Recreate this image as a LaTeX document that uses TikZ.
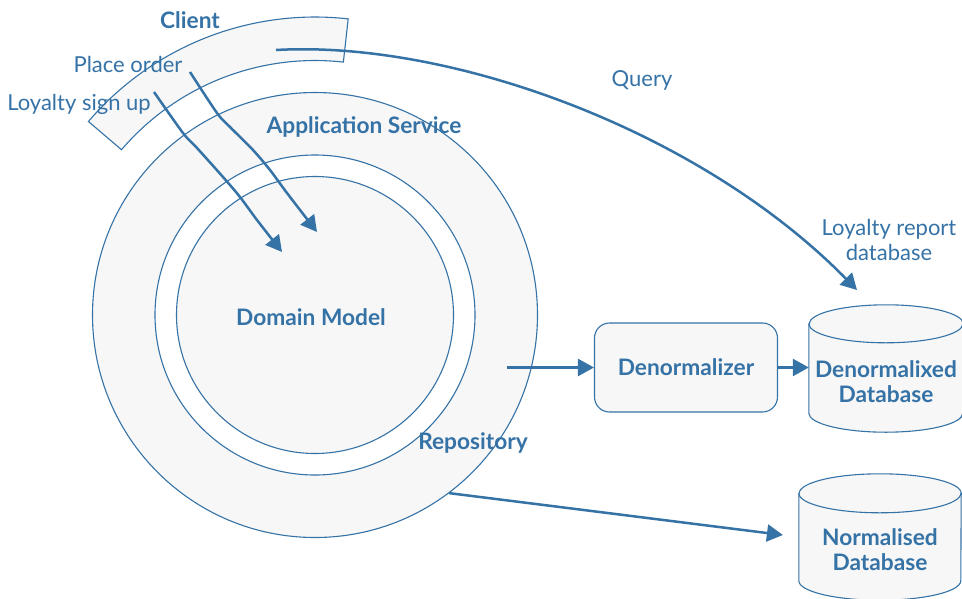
\documentclass[tikz,border=0pt]{standalone}
\usepackage{fontspec}
\setmainfont{Lato}
\definecolor{ringblue}{RGB}{53,114,166}
\definecolor{ringfill}{RGB}{247,247,247}
\usetikzlibrary{shapes,arrows.meta,positioning,calc}

\begin{document}
\begin{tikzpicture}[x=1pt,y=-1pt,
            ring/.style={circle, draw=ringblue, line width=1.1pt, inner sep=0pt},
            flow/.style={draw=ringblue, line width=2.5pt, -{Triangle[length=16pt,width=17pt]}},
            lbl/.style={text=ringblue, font=\fontsize{22}{25}\selectfont, align=center, inner sep=0pt},
            boldlbl/.style={lbl, font=\fontsize{22.7}{25}\selectfont\bfseries},
            procbox/.style={rectangle, rounded corners=15pt, draw=ringblue, fill=ringfill, line width=1.1pt, minimum width=183, minimum height=89},
            dbbody/.style={rectangle, inner sep=0pt},
            dbline/.style={draw=ringblue, fill=ringfill, line width=1.1pt}]
            \useasboundingbox (0,0) rectangle (962,598);
            \filldraw[dbline]
                plot[domain=-139.5:-83.6, samples=40] ({315+298*cos(\x)},{315+298*sin(\x)})
                -- plot[domain=-83.6:-139.5, samples=40] ({315+254.5*cos(\x)},{315+254.5*sin(\x)}) -- cycle;
            \node[ring, fill=ringfill, minimum size=445] (appsvc) at (315,315) {};
            \node[ring, fill=white, minimum size=320] (gapring) at (315,315) {};
            \node[ring, fill=ringfill, minimum size=277] (domain) at (315,315) {};

            \node[boldlbl] (clientlbl) at (190,20) {Client};
            \node[lbl] (placelbl) at (128,64) {Place order};
            \node[lbl] (signuplbl) at (79,104) {Loyalty sign up};
            \node[boldlbl] (appsvclbl) at (364,127) {Application Service};
            \node[boldlbl] (domainlbl) at (311,317) {Domain Model};
            \node[boldlbl] (repolbl) at (473,443) {Repository};
            \node[lbl] (querylbl) at (642,80) {Query};
            \node[lbl] (reportlbl) at (889,240) {Loyalty report\\database};

            \node[procbox] (denorm) at (686,367.5) {};
            \node[boldlbl] at (denorm) {Denormalizer};

            \node[dbbody, minimum width=154, minimum height=89] (denormdb) at (886,368.5) {};
            \filldraw[dbline] (denormdb.north west) -- (denormdb.south west)
                arc[start angle=180, end angle=360, x radius=77pt, y radius=19pt]
                -- (denormdb.north east) arc[start angle=0, end angle=180, x radius=77pt, y radius=19pt] -- cycle;
            \draw[dbline, fill=none] (denormdb.north west) arc[start angle=180, end angle=360, x radius=77pt, y radius=19pt];
            \node[boldlbl, yshift=-13] (denormdblbl) at (denormdb.center) {Denormalixed\\Database};

            \node[dbbody, minimum width=162, minimum height=87] (normdb) at (880,537) {};
            \filldraw[dbline] (normdb.north west) -- (normdb.south west)
                arc[start angle=180, end angle=360, x radius=81pt, y radius=19.5pt]
                -- (normdb.north east) arc[start angle=0, end angle=180, x radius=81pt, y radius=19.5pt] -- cycle;
            \draw[dbline, fill=none] (normdb.north west) arc[start angle=180, end angle=360, x radius=81pt, y radius=19.5pt];
            \node[boldlbl, yshift=-12.5] (normdblbl) at (normdb.center) {Normalised\\Database};

            \coordinate (qstart) at (276,50);
            \coordinate (qend) at (857,290);
            \coordinate (pobeg) at (190,72);
            \coordinate (poend) at (317,232);
            \coordinate (lsbeg) at (154,92);
            \coordinate (lsend) at (282,252);
            \coordinate (denormin) at (507,367.5);

            \draw[flow] (qstart) .. controls (450,40) and (700,130) .. (qend);
            \draw[flow] plot[smooth, tension=0.5] coordinates {(pobeg) (217,113) (230,127) (253,150) (270,170) (287,193) (poend)};
            \draw[flow] plot[smooth, tension=0.5] coordinates {(lsbeg) (183,133) (197,148) (223,177) (240,197) (257,220) (lsend)};
            \draw[flow] (denormin) -- (denorm.west);
            \draw[flow] (denorm.east) -- (denorm.east -| denormdb.west);
            \draw[flow, shorten >=16pt] (appsvc.-53.5) -- (normdb.west);
        \end{tikzpicture}
\end{document}
